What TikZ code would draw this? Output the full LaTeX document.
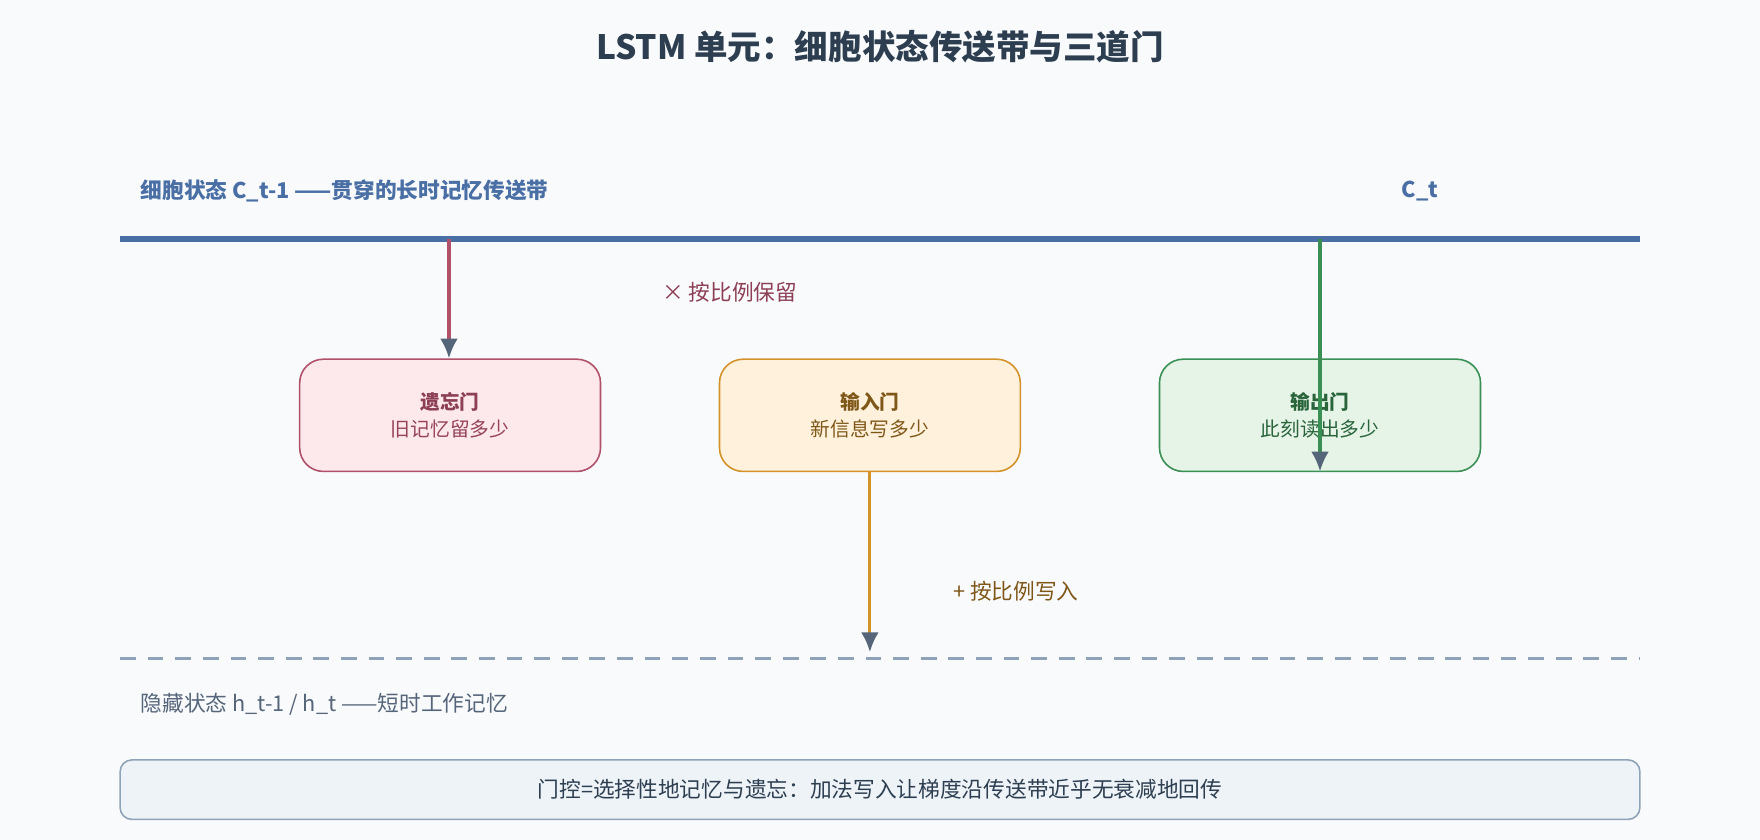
\documentclass[tikz,border=0pt]{standalone}
\usepackage{fontspec}
\setmainfont{Noto Sans CJK SC}
\usetikzlibrary{positioning,arrows.meta}
\definecolor{titlec}{HTML}{2C3E50}
\definecolor{cellc}{HTML}{4A6FA5}
\definecolor{tipc}{HTML}{55657A}
\definecolor{forgetc}{HTML}{B0506A}
\definecolor{forgetf}{HTML}{FDE8EC}
\definecolor{inputc}{HTML}{D4922A}
\definecolor{inputf}{HTML}{FFF1DC}
\definecolor{outputc}{HTML}{3A8F55}
\definecolor{outputf}{HTML}{E5F4E7}
\definecolor{hidc}{HTML}{8FA3B8}
\definecolor{notef}{HTML}{EEF3F8}
\tikzset{
  gate/.style={draw, rounded corners=12pt, minimum width=268*0.02cm, minimum height=100*0.02cm, line width=0.8pt, align=center},
  flow/.style={line width=1.6pt, arrows={-Latex[color=tipc, length=10pt, width=9pt]}},
  label/.style={inner sep=0pt, font=\fontsize{11}{13}\selectfont}
}
\begin{document}
\begin{tikzpicture}[x=0.02cm, y=-0.02cm]
  \useasboundingbox[fill={rgb,255:red,249;green,250;blue,252}] (0,0) rectangle (1568,748);
  % Titel
  \node[font=\fontsize{17}{20}\selectfont\bfseries, text=titlec] (title) at (784,42) {LSTM 单元：细胞状态传送带与三道门};

  % Zellzustand
  \coordinate (cl) at (107,213);
  \coordinate (cr) at (1461,213);
  \draw[cellc, line width=3.4pt] (cl) -- (cr);
  \node[label, anchor=west, text=cellc, font=\fontsize{11}{13}\selectfont\bfseries] (celltxt) at (125,170) {细胞状态 C\_t-1 ——贯穿的长时记忆传送带};
  \node[label, text=cellc, font=\fontsize{11}{13}\selectfont\bfseries] (ct) at (1265,170) {C\_t};

  % Tore
  \node[gate, fill=forgetf, draw=forgetc] (forget) at (401,370) {\textbf{\color{forgetc!80!black}遗忘门}\\[2pt]\color{forgetc!85!black}旧记忆留多少};
  \node[gate, fill=inputf, draw=inputc] (input) at (775,370) {\textbf{\color{inputc!60!black}输入门}\\[2pt]\color{inputc!60!black}新信息写多少};
  \node[gate, fill=outputf, draw=outputc, minimum width=286*0.02cm] (output) at (1176,370) {\textbf{\color{outputc!70!black}输出门}\\[2pt]\color{outputc!70!black}此刻读出多少};

  % Pfeile
  \coordinate (fs) at (400,213);
  \coordinate (os) at (1176,213);
  \coordinate (oe) at (1176,420);
  \coordinate (ie) at (775,581);
  \draw[flow, forgetc] (fs) -- (forget.north -| fs);
  \draw[flow, inputc] (input.south) -- (ie);
  \draw[flow, outputc] (os) -- (oe);
  \node[label, text=forgetc!80!black] (keep) at (650,260) {× 按比例保留};
  \node[label, text=inputc!60!black] (write) at (905,527) {+ 按比例写入};

  % Verborgener Zustand
  \coordinate (hl) at (107,587);
  \coordinate (hr) at (1461,587);
  \draw[hidc, line width=1.6pt, dash pattern=on 8pt off 6pt] (hl) -- (hr);
  \node[label, anchor=west, text=tipc] (hidtxt) at (125,627) {隐藏状态 h\_t-1 / h\_t ——短时工作记忆};

  % Fazit
  \node[draw=hidc, fill=notef, rounded corners=6pt, line width=0.8pt, minimum width=1354*0.02cm, minimum height=53*0.02cm, font=\fontsize{11}{13}\selectfont, text=titlec] (note) at (784,703.5) {门控=选择性地记忆与遗忘：加法写入让梯度沿传送带近乎无衰减地回传};
\end{tikzpicture}
\end{document}
